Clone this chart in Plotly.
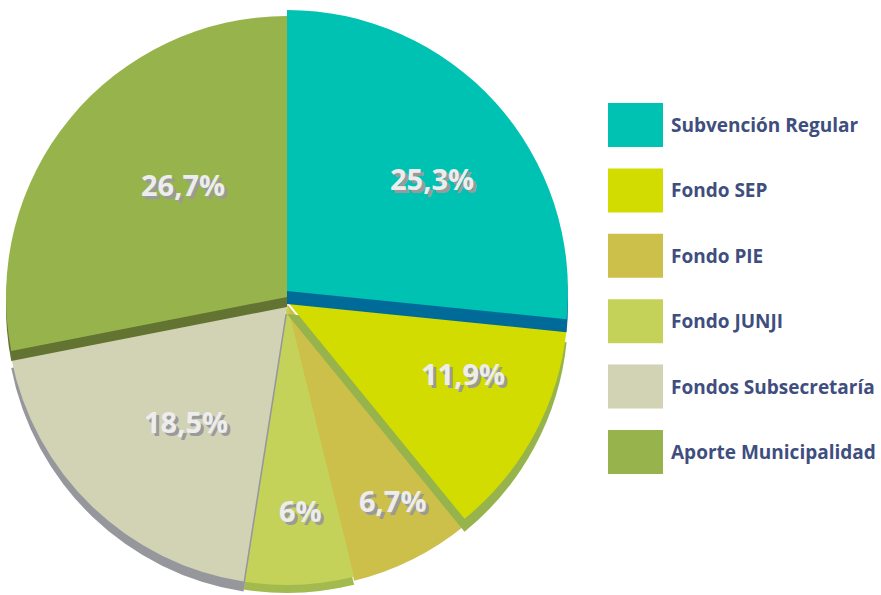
import math
import plotly.graph_objects as go

# Funding sources and their share of the budget (%)
categories = ["Subvención Regular", "Fondo SEP", "Fondo PIE", "Fondo JUNJI",
              "Fondos Subsecretaría", "Aporte Municipalidad"]
shares = [25.3, 11.9, 6.7, 6.0, 18.5, 26.7]

# Top face and side (depth) colours of each slice
face_colors = ["#00C2B2", "#D2DC00", "#CCBF4A", "#C5D25A", "#D2D2B5", "#97B44C"]
edge_colors = ["#006B99", "#97B44C", "#CCBF4A", "#A3BA4E", "#96979C", "#637332"]

# Slices are painted back to front so each side strip overlaps its neighbour
draw_order = [2, 3, 4, 5, 1, 0]
# Vertical lift of each top face and thickness of its side strip (px)
lift = [13, 3, 0, 0, 0, 7]
depth = [13, 13, 4, 8, 10, 10]
# Where each label sits inside its slice (fraction of sweep, fraction of radius)
label_span = [0.544, 0.371, 0.426, 0.449, 0.453, 0.576]
label_radius = [0.654, 0.678, 0.793, 0.738, 0.553, 0.544]

W, H = 881, 595
CX, CY, R = 287, 304, 281
total = sum(shares)
TRANSPARENT = "rgba(0,0,0,0)"


def pie_domain(dy):
    cy = CY + dy
    return dict(x=[(CX - R) / W, (CX + R) / W],
                y=[(H - cy - R) / H, (H - cy + R) / H])


def slice_trace(i, color, dy):
    before = sum(shares[:i])
    after = total - before - shares[i]
    return go.Pie(
        values=[before, shares[i], after],
        marker=dict(colors=[TRANSPARENT, color, TRANSPARENT], line=dict(width=0)),
        sort=False, direction="clockwise", rotation=0,
        textinfo="none", hoverinfo="skip", showlegend=False,
        domain=pie_domain(dy),
    )


fig = go.Figure()
for i in draw_order:
    fig.add_trace(slice_trace(i, edge_colors[i], depth[i] - lift[i]))
    fig.add_trace(slice_trace(i, face_colors[i], -lift[i]))

# Percentage labels on the slices
annotations = []
start = 0.0
for i, v in enumerate(shares):
    span = v / total * 360.0
    ang = math.radians(start + span * label_span[i])
    r = R * label_radius[i]
    px = CX + r * math.sin(ang)
    py = CY - lift[i] - r * math.cos(ang)
    label = f"{v:g}".replace(".", ",") + "%"
    annotations.append(dict(
        x=px / W, y=1 - py / H, xref="paper", yref="paper",
        text=label, showarrow=False, xanchor="center", yanchor="middle",
        font=dict(family="Open Sans", size=29, color="#EDEDED", weight="bold",
                  shadow="3px 3px 0px #9A9A9A"),
    ))
    start += span

# Legend: coloured blocks with the category names
shapes = []
LEG_X0, LEG_X1 = 608, 663
LEG_Y0, LEG_STEP, LEG_H = 103, 65.4, 44
for i, name in enumerate(categories):
    y0 = LEG_Y0 + i * LEG_STEP
    shapes.append(dict(
        type="rect", xref="paper", yref="paper",
        x0=LEG_X0 / W, x1=LEG_X1 / W, y0=1 - (y0 + LEG_H) / H, y1=1 - y0 / H,
        fillcolor=face_colors[i], line=dict(width=0),
    ))
    annotations.append(dict(
        x=669 / W, y=1 - (y0 + LEG_H / 2) / H, xref="paper", yref="paper",
        text=name, showarrow=False, xanchor="left", yanchor="middle",
        font=dict(family="Open Sans", size=19, color="#3E4E7E", weight="bold"),
    ))

fig.update_layout(
    width=W, height=H,
    margin=dict(l=0, r=0, t=0, b=0),
    paper_bgcolor="white", plot_bgcolor="white",
    showlegend=False,
    annotations=annotations, shapes=shapes,
)

fig.write_html("out.html")
